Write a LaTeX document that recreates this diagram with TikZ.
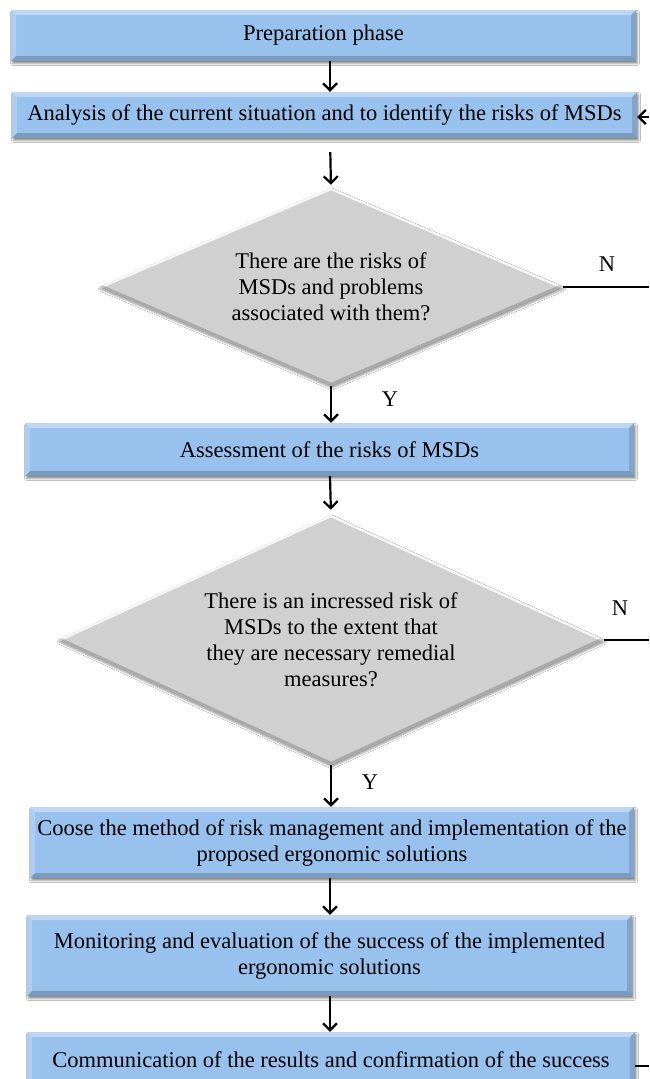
\documentclass[tikz,border=0pt]{standalone}
\usepackage{fontspec}
\setmainfont{Liberation Serif}
\usetikzlibrary{shapes.geometric,arrows.meta,shadows.blur}
\definecolor{boxblue}{RGB}{153,193,238}
\definecolor{diagray}{RGB}{208,208,208}
\begin{document}
\begin{tikzpicture}[x=1pt,y=-1pt,
  font=\fontsize{22.5}{26}\selectfont,
  % raised blue process box with bevelled edges
  stepbox/.style 2 args={rectangle, fill=boxblue, inner sep=0pt, align=center,
    minimum width=#1, minimum height=#2,
    blur shadow={shadow xshift=1.5pt, shadow yshift=-2.5pt, shadow blur radius=2pt, shadow opacity=45},
    path picture={
      \fill[white,opacity=.35] (path picture bounding box.north west) -- (path picture bounding box.north east)
        -- ([xshift=-5pt,yshift=-5pt]path picture bounding box.north east) -- ([xshift=5pt,yshift=-5pt]path picture bounding box.north west) -- cycle;
      \fill[white,opacity=.2] (path picture bounding box.north west) -- (path picture bounding box.south west)
        -- ([xshift=5pt,yshift=5pt]path picture bounding box.south west) -- ([xshift=5pt,yshift=-5pt]path picture bounding box.north west) -- cycle;
      \fill[black,opacity=.15] (path picture bounding box.north east) -- (path picture bounding box.south east)
        -- ([xshift=-5pt,yshift=5pt]path picture bounding box.south east) -- ([xshift=-5pt,yshift=-5pt]path picture bounding box.north east) -- cycle;
      \fill[black,opacity=.2] (path picture bounding box.south west) -- (path picture bounding box.south east)
        -- ([xshift=-5pt,yshift=5pt]path picture bounding box.south east) -- ([xshift=5pt,yshift=5pt]path picture bounding box.south west) -- cycle;
    }},
  % grey decision diamond with highlighted upper edges
  decision/.style 2 args={diamond, aspect=2.2, fill=diagray, inner sep=0pt, align=center,
    minimum width=#1, minimum height=#2,
    blur shadow={shadow xshift=1pt, shadow yshift=-2pt, shadow blur radius=2pt, shadow opacity=40},
    path picture={
      \draw[white,opacity=.85,line width=4pt] (path picture bounding box.west) -- (path picture bounding box.north) -- (path picture bounding box.east);
      \draw[black,opacity=.18,line width=6pt] (path picture bounding box.west) -- (path picture bounding box.south) -- (path picture bounding box.east);
    }},
  arr/.style={line width=2.2pt, -{Straight Barb[length=7pt,width=14pt,line width=2.2pt]}},
  link/.style={line width=2pt},
  lbl/.style={inner sep=0pt}
]
\useasboundingbox (0,0) rectangle (649,1079);
\fill[white] (0,0) rectangle (649,1079);

% vertical axis of the flow
\coordinate (axis) at (330,0);

\node[stepbox={625pt}{51pt}] (b1) at (323.5,35.5) {Preparation phase};
\node[stepbox={625pt}{46pt}] (b2) at (324.5,115) {Analysis of the current situation and to identify the risks of MSDs};
\node[decision={464pt}{198pt}] (d1) at (331,287) {There are the risks of\\MSDs and problems\\associated with them?};
\node[stepbox={609pt}{53pt}] (b3) at (329.5,449.5) {Assessment of the risks of MSDs};
\node[decision={546pt}{250pt}] (d2) at (331,640) {There is an incressed risk of\\MSDs to the extent that\\they are necessary remedial\\measures?};
\node[stepbox={604pt}{71pt}] (b4) at (332,842.5) {Coose the method of risk management and implementation of the\\proposed ergonomic solutions};
\node[stepbox={605pt}{81pt}] (b5) at (329.5,955.5) {Monitoring and evaluation of the success of the implemented\\ergonomic solutions};
\node[stepbox={608pt}{56pt}] (b6) at (331,1060) {Communication of the results and confirmation of the success};

% labels of the decisions
\node[lbl] (n1) at (607,264) {N};
\node[lbl] (y1) at (390,399) {Y};
\node[lbl] (n2) at (620,608) {N};
\node[lbl] (y2) at (370,782) {Y};

% main flow
\draw[arr] (axis |- b1.south) -- (axis |- b2.north);
\draw[arr, shorten <=14pt, shorten >=3pt] (axis |- b2.south) -- (d1.north);
\draw[arr] (d1.south) -- (d1.south |- b3.north);
\draw[arr, shorten >=5pt] (axis |- b3.south) -- (d2.north);
\draw[arr] (d2.south) -- (d2.south |- b4.north);
\draw[arr] (axis |- b4.south) -- (axis |- b5.north);
\draw[arr] (axis |- b5.south) -- (axis |- b6.north);

% side branches leaving the frame
\coordinate (r1) at (649,287);
\coordinate (r2) at (649,640);
\coordinate (rin) at (649,117);
\coordinate (rout) at (649,1066);
\draw[link] (d1.east) -- (r1);
\draw[link] (d2.east) -- (r2);
\draw[arr] (rin) -- (b2.east |- rin);
\draw[link] (b6.east |- rout) -- (rout);
\end{tikzpicture}
\end{document}
